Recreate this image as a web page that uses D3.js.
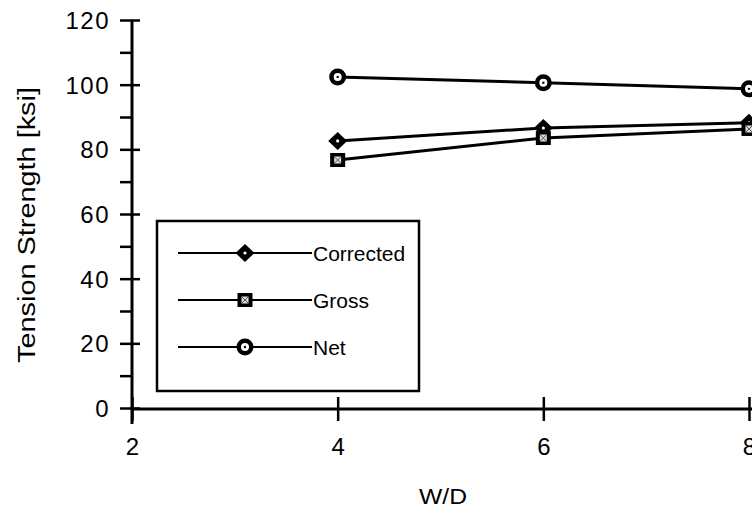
<!DOCTYPE html>
<html>
<head>
<meta charset="utf-8">
<script src="https://cdn.jsdelivr.net/npm/d3@7"></script>
<style>
  html, body { margin: 0; padding: 0; background: #fff; }
  svg { display: block; }
  text { font-family: "Liberation Sans", Arial, Helvetica, sans-serif; fill: #000; }
</style>
</head>
<body>
<svg id="chart" width="752" height="511"></svg>
<script>
// ---- data ----
const wd = [4, 6, 8];
const corrected = [82.6, 86.6, 88.2];
const gross = [76.7, 83.5, 86.3];
const net = [102.4, 100.6, 98.7];
const seriesNames = ["Corrected", "Gross", "Net"];
const xTicks = [2, 4, 6, 8];
const yTicks = [0, 20, 40, 60, 80, 100, 120];
const yMinorTicks = [10, 30, 50, 70, 90, 110];

const svg = d3.select("#chart");
const x = d3.scaleLinear().domain([2, 8]).range([132, 749]);
const y = d3.scaleLinear().domain([0, 120]).range([408, 20]);

// ---- y axis ----
const yAxis = svg.append("g").attr("transform", `translate(${x(2)},0)`)
  .call(d3.axisLeft(y).tickValues(yTicks).tickFormat(d3.format("d")).tickSize(12).tickPadding(12));
yAxis.select(".domain").attr("stroke", "#000").attr("stroke-width", 3)
  .attr("d", `M0,${y(120)}V${y(0) + 16}`);
yAxis.selectAll(".tick line").attr("stroke", "#000").attr("stroke-width", 2.5)
  .attr("x1", -12).attr("x2", 8);
yAxis.selectAll(".tick text")
  .style("font-size", "24px").style("letter-spacing", "1.5px")
  .attr("x", -22).attr("dy", "0.36em");

const yMinor = svg.append("g").attr("transform", `translate(${x(2)},0)`)
  .call(d3.axisLeft(y).tickValues(yMinorTicks).tickSize(12).tickFormat(""));
yMinor.select(".domain").remove();
yMinor.selectAll(".tick line").attr("stroke", "#000").attr("stroke-width", 2.5);

// ---- x axis ----
const xAxis = svg.append("g").attr("transform", `translate(0,${y(0) + 1})`)
  .call(d3.axisBottom(x).tickValues(xTicks).tickFormat(d3.format("d")).tickSize(12).tickPadding(0));
xAxis.select(".domain").attr("stroke", "#000").attr("stroke-width", 3)
  .attr("d", `M${x(2)},0H752`);
xAxis.selectAll(".tick line").attr("stroke", "#000").attr("stroke-width", 2.5)
  .attr("y1", -12).attr("y2", 12);
xAxis.selectAll(".tick text")
  .style("font-size", "24px").attr("y", 37).attr("dy", "0.36em");

// ---- axis titles ----
svg.append("text")
  .attr("transform", `translate(35,${(y(0) + y(120)) / 2 + 11}) rotate(-90)`)
  .attr("text-anchor", "middle")
  .attr("textLength", 276).attr("lengthAdjust", "spacingAndGlyphs")
  .style("font-size", "23px")
  .text("Tension Strength [ksi]");
svg.append("text")
  .attr("x", 443).attr("y", 504)
  .attr("text-anchor", "middle")
  .attr("textLength", 48).attr("lengthAdjust", "spacingAndGlyphs")
  .style("font-size", "22px")
  .text("W/D");

// ---- markers ----
function marker(g, type, cx, cy) {
  const m = g.append("g").attr("transform", `translate(${cx},${cy})`);
  if (type === "Corrected") {
    m.append("path").attr("d", "M0,-9L9.5,0L0,9L-9.5,0Z").attr("fill", "#000");
    m.append("circle").attr("r", 1.6).attr("fill", "#fff");
  } else if (type === "Gross") {
    m.append("rect").attr("x", -7.5).attr("y", -7).attr("width", 15).attr("height", 14).attr("fill", "#000");
    m.append("rect").attr("x", -3.5).attr("y", -3.5).attr("width", 7).attr("height", 7).attr("fill", "#ddd");
    m.append("path").attr("d", "M-3,-3L3,3M3,-3L-3,3").attr("stroke", "#555").attr("stroke-width", 1);
  } else {
    m.append("circle").attr("r", 8.5).attr("fill", "#000");
    m.append("circle").attr("r", 4).attr("fill", "#fff");
    m.append("circle").attr("r", 1.2).attr("fill", "#000");
  }
}

// ---- series ----
const allSeries = [
  { name: "Net", values: net },
  { name: "Corrected", values: corrected },
  { name: "Gross", values: gross }
];
const line = d3.line().x(d => x(d[0])).y(d => y(d[1]));
const plot = svg.append("g");
allSeries.forEach(s => {
  const pts = wd.map((w, i) => [w, s.values[i]]);
  plot.append("path").datum(pts).attr("d", line)
    .attr("fill", "none").attr("stroke", "#000").attr("stroke-width", 3);
});
allSeries.forEach(s => {
  wd.forEach((w, i) => marker(plot, s.name, x(w), y(s.values[i])));
});

// ---- legend ----
const legend = svg.append("g");
legend.append("rect").attr("x", 157).attr("y", 221).attr("width", 262).attr("height", 170)
  .attr("fill", "#fff").attr("stroke", "#000").attr("stroke-width", 2.5);
const legendY = d3.scalePoint().domain(seriesNames).range([253, 347]);
seriesNames.forEach(n => {
  const ly = legendY(n);
  legend.append("line").attr("x1", 178).attr("x2", 312).attr("y1", ly).attr("y2", ly)
    .attr("stroke", "#000").attr("stroke-width", 2);
  marker(legend, n, 245, ly);
  legend.append("text").attr("x", 313).attr("y", ly).attr("dy", "0.36em")
    .style("font-size", "21px").text(n);
});
</script>
</body>
</html>
